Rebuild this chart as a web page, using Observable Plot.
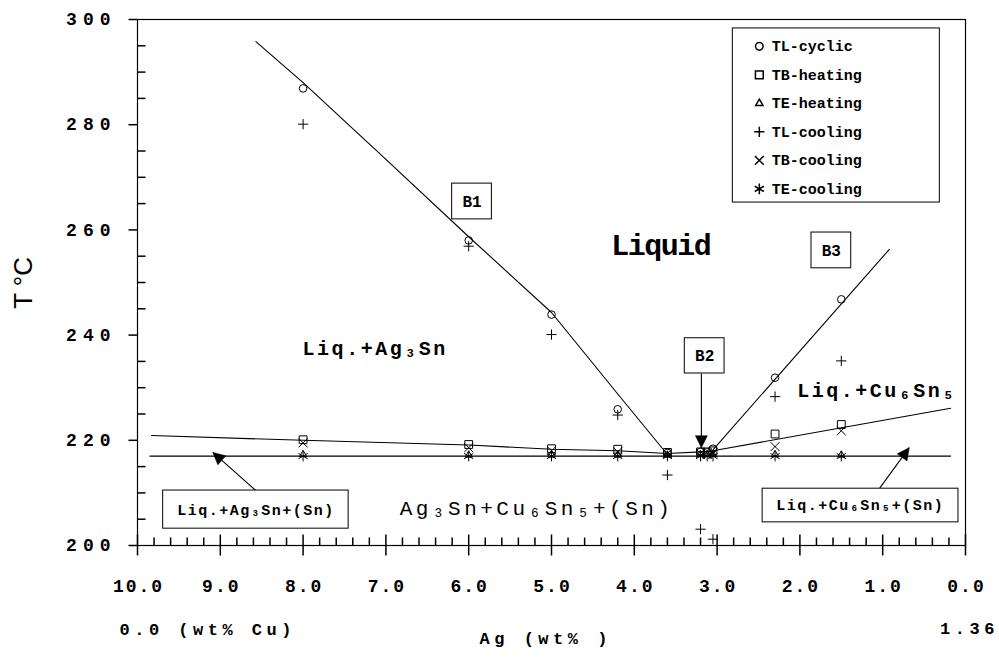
<!DOCTYPE html>
<html><head><meta charset="utf-8">
<script src="https://cdn.jsdelivr.net/npm/d3@7"></script>
<script src="https://cdn.jsdelivr.net/npm/@observablehq/plot@0.6"></script>
<style>
body{margin:0;background:#fff}
g[font-family*="lsY"]{letter-spacing:6px}
g[font-family*="lsX"]{letter-spacing:2px}
g[font-family*="lsB"]{letter-spacing:4.5px}
g[font-family*="lsR"]{letter-spacing:2.5px}
g[font-family*="lsE"]{letter-spacing:3.5px}
g[font-family*="lsK"]{letter-spacing:1.5px}
g[font-family*="lsL"]{letter-spacing:0px}
g[font-family*="lsQ"]{letter-spacing:-1.5px}
</style></head>
<body><div id="chart"></div>
<script>
// ---------- data ----------
const ag = [8.0, 6.0, 5.0, 4.2, 3.6, 3.2, 3.12, 3.05, 2.3, 1.5];
const tlCyclic  = [286.9, 258.0, 243.9, 225.9, 217.6, 217.8, 217.7, 218.4, 231.9, 246.8];
const tbHeating = [220.1, 219.2, 218.4, 218.3, 217.7, 217.8, 217.8, 218.0, 221.2, 223.0];
const teHeating = [217.3, 217.2, 217.2, 217.2, 217.2, 217.3, 217.3, 217.3, 217.3, 217.2];
const tlCooling = [280.1, 256.9, 240.1, 224.8, 213.4, 203.1, null, 201.2, 228.3, 235.1];
const tbCooling = [219.5, 218.6, 218.0, 217.8, 217.5, 217.5, 217.5, 217.6, 218.8, 221.8];
const teCooling = [217.0, 217.0, 217.0, 217.0, 217.0, 217.0, 217.0, 217.0, 217.0, 217.0];

const seriesNames = ["TL-cyclic", "TB-heating", "TE-heating", "TL-cooling", "TB-cooling", "TE-cooling"];

// phase boundary curves
const b1Ag = [8.57, 8.0, 7.0, 6.0, 5.0, 4.2, 3.6];
const b1T  = [295.8, 288.0, 273.4, 258.7, 244.3, 228.8, 217.3];
const b3Ag = [3.05, 0.92];
const b3T  = [218.2, 256.3];
const tbAgSideAg = [9.83, 8.0, 6.0, 5.0, 4.2, 3.6];
const tbAgSideT  = [220.9, 220.0, 219.1, 218.3, 218.0, 217.5];
const tbCuSideAg = [3.05, 0.18];
const tbCuSideT  = [218.0, 226.1];
const eutAg = [9.85, 0.18];
const eutT  = [217.0, 217.0];
const linkAg = [3.6, 3.2, 3.05];
const linkT  = [217.5, 217.8, 218.0];

// ticks
const xTicks = [10, 9, 8, 7, 6, 5, 4, 3, 2, 1, 0];
const yTicks = [200, 220, 240, 260, 280, 300];
const xMinor = d3.range(1, 50).map(i => i / 5).filter(v => Math.abs(v - Math.round(v)) > 1e-6);
const yMinor = d3.range(205, 300, 5).filter(v => v % 20 !== 0);

// ---------- styles ----------
const mono = k => `Liberation Mono, Courier New, DejaVu Sans Mono, monospace, ${k}`;
const symStyle = [
  {symbol: "circle", r: 3.8},
  {symbol: "square", r: 4.4},
  {symbol: "triangle", r: 2.7},
  {symbol: "plus", r: 3.4},
  {symbol: "times", r: 4.1},
  {symbol: "asterisk", r: 5.0}
];
const seriesValues = [tlCyclic, tbHeating, teHeating, tlCooling, tbCooling, teCooling];

const vTick = (up, down) => ({draw(c) { c.moveTo(0, -up); c.lineTo(0, down); }});
const hTick = (left, right) => ({draw(c) { c.moveTo(-left, 0); c.lineTo(right, 0); }});
const head = {draw(c) { c.moveTo(0, 0); c.lineTo(-6, 12); c.lineTo(6, 12); c.closePath(); }};

const curve = (xs, ys) => Plot.line(xs, {x: d => d, y: (d, i) => ys[i], stroke: "black", strokeWidth: 1.1});

const marks = [
  curve(b1Ag, b1T), curve(b3Ag, b3T), curve(tbAgSideAg, tbAgSideT),
  curve(tbCuSideAg, tbCuSideT), curve(eutAg, eutT), curve(linkAg, linkT),
];

// arrows
const arrows = [
  {x1: 3.19, y1: 232.7, x2: 3.19, y2: 218.6, rot: 180},
  {x1: 8.57, y1: 210.45, x2: 9.09, y2: 217.7, rot: -48.5},
  {x1: 1.04, y1: 210.8, x2: 0.68, y2: 218.6, rot: 36}
];
marks.push(Plot.link(arrows, {x1: "x1", y1: "y1", x2: "x2", y2: "y2", stroke: "black", strokeWidth: 1.1}));
arrows.forEach(a => marks.push(Plot.dot([a], {x: "x2", y: "y2", symbol: head, fill: "black", stroke: "black", strokeWidth: 0.5, rotate: a.rot})));

// boxes
const boxes = [
  {x1: 6.20, x2: 5.72, y1: 262.0, y2: 268.8},
  {x1: 3.39, x2: 2.91, y1: 232.7, y2: 239.4},
  {x1: 1.86, x2: 1.38, y1: 252.7, y2: 259.5},
  {x1: 9.69, x2: 7.45, y1: 203.2, y2: 210.45},
  {x1: 2.45, x2: 0.085, y1: 204.4, y2: 210.8},
  {x1: 2.81, x2: 0.31, y1: 265.2, y2: 298.3}
];
marks.push(Plot.rect(boxes, {x1: "x1", x2: "x2", y1: "y1", y2: "y2", fill: "white", stroke: "black", strokeWidth: 1}));

// box labels
marks.push(Plot.text([
  {x: 5.96, y: 265.4, t: "B1"}, {x: 3.15, y: 236.05, t: "B2"}, {x: 1.62, y: 256.1, t: "B3"}
], {x: "x", y: "y", text: "t", fontSize: 16, fontWeight: "bold", fontFamily: mono("lsN")}));
marks.push(Plot.text([
  {x: 8.57, y: 206.8, t: "Liq.+Ag₃Sn+(Sn)"}, {x: 1.27, y: 207.6, t: "Liq.+Cu₆Sn₅+(Sn)"}
], {x: "x", y: "y", text: "t", fontSize: 15, fontWeight: "bold", fontFamily: mono("lsK")}));

// region labels
marks.push(Plot.text([{x: 3.68, y: 257.0, t: "Liquid"}], {x: "x", y: "y", text: "t", fontSize: 30, fontWeight: "bold", fontFamily: mono("lsQ")}));
marks.push(Plot.text([
  {x: 7.13, y: 237.5, t: "Liq.+Ag₃Sn"}, {x: 1.07, y: 229.5, t: "Liq.+Cu₆Sn₅"}
], {x: "x", y: "y", text: "t", fontSize: 20, fontWeight: "bold", fontFamily: mono("lsR")}));
marks.push(Plot.text([{x: 5.18, y: 207.0, t: "Ag₃Sn+Cu₆Sn₅+(Sn)"}], {x: "x", y: "y", text: "t", fontSize: 21, fontFamily: mono("lsE")}));

// data points
symStyle.forEach((s, k) => {
  marks.push(Plot.dot(ag.map((a, i) => i), {
    x: i => ag[i], y: i => seriesValues[k][i],
    symbol: s.symbol, r: s.r, stroke: "black", fill: "none", strokeWidth: 1
  }));
});

// legend
seriesNames.forEach((n, k) => {
  const ty = 294.9 - k * 5.42;
  marks.push(Plot.dot([n], {x: () => 2.49, y: () => ty, symbol: symStyle[k].symbol, r: symStyle[k].r, stroke: "black", fill: "none"}));
});
marks.push(Plot.text(seriesNames, {x: () => 2.34, y: (d, k) => 294.9 - k * 5.42, text: d => d, textAnchor: "start", fontSize: 15, fontWeight: "bold", fontFamily: mono("lsL")}));

// ticks
marks.push(Plot.dot(xTicks, {x: d => d, frameAnchor: "bottom", symbol: vTick(11, 10), stroke: "black", fill: "none"}));
marks.push(Plot.dot(xMinor, {x: d => d, frameAnchor: "bottom", symbol: vTick(8, 0), stroke: "black", fill: "none"}));
marks.push(Plot.dot(yTicks, {y: d => d, frameAnchor: "left", symbol: hTick(9, 0), stroke: "black", fill: "none"}));
marks.push(Plot.dot(yMinor, {y: d => d, frameAnchor: "left", symbol: hTick(0, 8), stroke: "black", fill: "none"}));
marks.push(Plot.frame({stroke: "black", strokeWidth: 1.2}));

// tick labels
marks.push(Plot.text(yTicks, {y: d => d, frameAnchor: "left", dx: -21, textAnchor: "end", text: d => String(d), fontSize: 18, fontWeight: "bold", fontFamily: mono("lsY")}));
marks.push(Plot.text(xTicks, {x: d => d, frameAnchor: "bottom", dy: 46, dx: 1, text: d => d3.format(".1f")(d), fontSize: 18, fontWeight: "bold", fontFamily: mono("lsX")}));

// axis titles
marks.push(Plot.text(["0.0 (wt% Cu)"], {x: () => 10, frameAnchor: "bottom", dx: -18, dy: 89, textAnchor: "start", text: d => d, fontSize: 17, fontWeight: "bold", fontFamily: mono("lsB")}));
marks.push(Plot.text(["1.36"], {x: () => 0, frameAnchor: "bottom", dx: 4, dy: 88, text: d => d, fontSize: 17, fontWeight: "bold", fontFamily: mono("lsB")}));
marks.push(Plot.text(["Ag (wt% )"], {x: () => 5.07, frameAnchor: "bottom", dy: 98, text: d => d, fontSize: 17, fontWeight: "bold", fontFamily: mono("lsB")}));
marks.push(Plot.text(["T °C"], {y: () => 245, frameAnchor: "left", dx: -114, rotate: -90, text: d => d, fontSize: 26, fontFamily: "Liberation Sans, Arial, sans-serif"}));

const chart = Plot.plot({
  width: 999, height: 658,
  marginLeft: 137, marginRight: 34, marginTop: 19, marginBottom: 113,
  x: {domain: [10, 0], axis: null},
  y: {domain: [200, 300], axis: null},
  style: {background: "white", color: "black", overflow: "visible"},
  marks
});
document.getElementById("chart").appendChild(chart);
</script></body></html>
